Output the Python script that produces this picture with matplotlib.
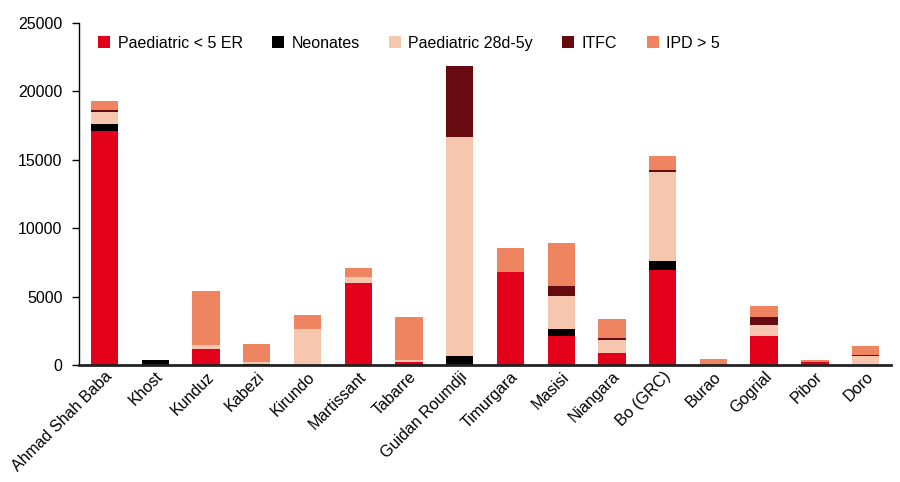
import matplotlib.pyplot as plt
import numpy as np

plt.rcParams['font.family'] = ['Liberation Sans', 'DejaVu Sans']

proyectos = ['Ahmad Shah Baba', 'Khost', 'Kunduz', 'Kabezi', 'Kirundo', 'Martissant',
             'Tabarre', 'Guidan Roumdji', 'Timurgara', 'Masisi', 'Niangara', 'Bo (GRC)',
             'Burao', 'Gogrial', 'Pibor', 'Doro']

paed_er = [17130, 0, 1180, 0, 0, 5960, 220, 0, 6760, 2130, 880, 6910, 0, 2130, 220, 0]
neonatos = [520, 370, 0, 80, 0, 0, 0, 660, 0, 520, 0, 660, 0, 0, 0, 0]
paed_28d = [880, 0, 290, 150, 2650, 440, 150, 16030, 0, 2420, 960, 6550, 0, 810, 0, 660]
itfc = [150, 0, 0, 0, 0, 0, 0, 5150, 0, 670, 150, 150, 0, 590, 0, 80]
ipd = [660, 0, 3900, 1310, 1030, 660, 3160, 0, 1770, 3160, 1390, 1020, 460, 810, 150, 660]

series = [
    ('Paediatric < 5 ER', paed_er, '#E2001A'),
    ('Neonates', neonatos, '#000000'),
    ('Paediatric 28d-5y', paed_28d, '#F7C6AF'),
    ('ITFC', itfc, '#660C10'),
    ('IPD > 5', ipd, '#EE8460'),
]

fig = plt.figure(figsize=(9, 4.82), dpi=100)
ax = fig.add_axes([0.088, 0.243, 0.902, 0.709])

x = np.arange(len(proyectos))
base = np.zeros(len(proyectos))
for nombre, valores, color in series:
    valores = np.array(valores, dtype=float)
    ax.bar(x, valores, 0.54, bottom=base, color=color, label=nombre)
    base += valores

ax.set_xlim(-0.5, len(proyectos) - 0.5)
ax.set_ylim(0, 25000)
ax.set_yticks(range(0, 25001, 5000))
ax.tick_params(axis='y', labelsize=11.5, direction='out', length=5, width=1, pad=7)
ax.tick_params(axis='x', length=0, labelsize=11.5, pad=3)
ax.set_xticks(x)
ax.set_xticklabels(proyectos, rotation=45, ha='right', va='top', rotation_mode='anchor')

for lado in ['top', 'right']:
    ax.spines[lado].set_visible(False)
ax.spines['left'].set_linewidth(1)
ax.spines['bottom'].set_linewidth(2)
ax.spines['bottom'].set_color('#222222')

ax.legend(loc='upper left', bbox_to_anchor=(0.006, 1.005), ncol=5, frameon=False,
          fontsize=11.5, handlelength=0.75, handleheight=0.75, handletextpad=0.45,
          columnspacing=1.85)

fig.savefig('out.png', dpi=100)
